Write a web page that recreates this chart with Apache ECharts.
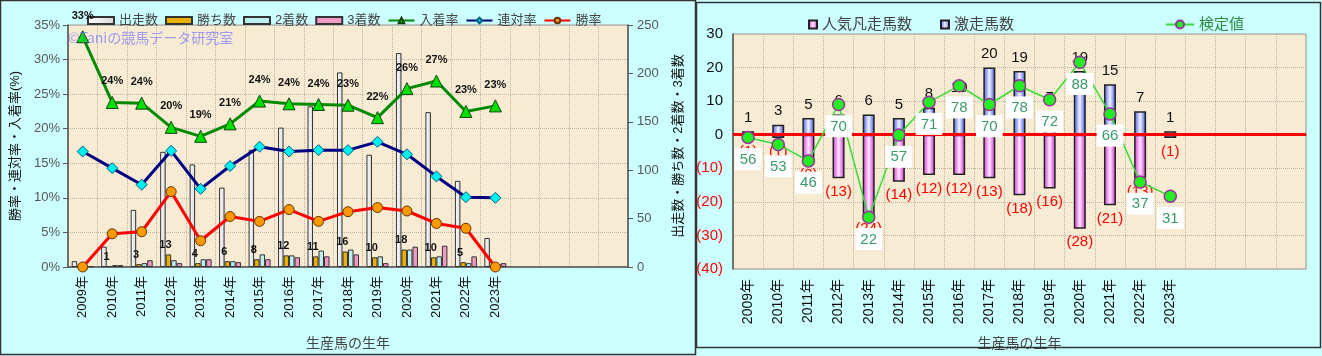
<!DOCTYPE html>
<html><head><meta charset="utf-8">
<script src="https://cdn.jsdelivr.net/npm/echarts@6/dist/echarts.min.js"></script>
<style>html,body{margin:0;padding:0;background:#CCFFFF;}#c{width:1322px;height:356px;}</style>
</head><body><div id="c"></div>
<script>
// ---- data ----
const years = ['2009年','2010年','2011年','2012年','2013年','2014年','2015年','2016年','2017年','2018年','2019年','2020年','2021年','2022年','2023年'];
const blanks = ['', '', '', ''];
const runners = [6,21,59,119,106,82,121,144,166,201,116,221,160,89,30];
const wins = [0,1,3,13,4,6,8,12,11,16,10,18,10,5,0];
const seconds = [1,2,4,7,8,6,13,12,17,18,11,18,11,4,3];
const thirds = [1,2,7,4,8,5,8,10,11,13,4,21,22,11,4];
const placeRate = [33.3,23.8,23.7,20.2,18.9,20.7,24.0,23.6,23.5,23.4,21.6,25.8,26.9,22.5,23.3];
const rentaiRate = [16.7,14.3,11.9,16.8,11.3,14.6,17.4,16.7,16.9,16.9,18.1,16.3,13.1,10.1,10.0];
const winRate = [0,4.8,5.1,10.9,3.8,7.3,6.6,8.3,6.6,8.0,8.6,8.1,6.3,5.6,0];
const surge = [1,3,5,6,6,5,8,10,20,19,7,19,15,7,1];
const flop = [-1,-1,-8,-13,-24,-14,-12,-12,-13,-18,-16,-28,-21,-13,-1];
const testVal = [56,53,46,70,22,57,71,78,70,78,72,88,66,37,31];

const cats = years.concat(blanks);
const FONT = 'Arial, "Liberation Sans", "Noto Sans CJK JP", sans-serif';
const chart = echarts.init(document.getElementById('c'), null, {renderer:'canvas'});
const grad = (c0, c1, c2, c3) => ({type:'linear',x:0,y:0,x2:1,y2:0,colorStops:[
  {offset:0,color:c0},{offset:0.28,color:c1},{offset:0.5,color:c2},{offset:0.72,color:c1},{offset:1,color:c3}]});
const dotted = {show:true,lineStyle:{color:'#BEB4A4',type:'dotted',width:1}};
const bw = 5.5;

const option = {
  backgroundColor:'#CCFFFF',
  animation:false,
  textStyle:{fontFamily:FONT},
  graphic:[
    {type:'rect',shape:{x:0.5,y:0.5,width:695,height:354},style:{fill:'none',stroke:'#333',lineWidth:1.5},z:100},
    {type:'rect',shape:{x:696.5,y:2.5,width:624,height:345},style:{fill:'none',stroke:'#333',lineWidth:1.5},z:100},
    {type:'text',left:68,top:31,style:{text:'©Taniの競馬データ研究室',fill:'rgba(110,110,255,0.65)',font:'14px "Noto Sans CJK JP", sans-serif'},z:50}
  ],
  legend:[
    {left:82,top:9,itemWidth:26,itemHeight:7,itemGap:7,textStyle:{fontSize:13,color:'#444',fontFamily:FONT},
     data:[{name:'出走数',icon:'rect'},{name:'勝ち数',icon:'rect'},{name:'2着数',icon:'rect'},{name:'3着数',icon:'rect'},'入着率','連対率','勝率']},
    {left:803,top:12,itemWidth:8,itemHeight:8,itemGap:28,textStyle:{fontSize:15,color:'#444',fontFamily:FONT},
     data:[{name:'人気凡走馬数',icon:'rect'},{name:'激走馬数',icon:'rect'}]},
    {left:1160,top:12,itemWidth:28,itemHeight:10,textStyle:{fontSize:15,color:'#2E8B3E',fontFamily:FONT},data:['検定値']}
  ],
  grid:[
    {left:68,top:25,width:560,height:244,show:true,backgroundColor:'#F7EBD3',borderColor:'#999',borderWidth:1},
    {left:733,top:34,width:573,height:238,show:true,backgroundColor:'#F7EBD3',borderColor:'#999',borderWidth:1}
  ],
  xAxis:[
    {type:'category',gridIndex:0,data:cats,axisTick:{show:false},axisLine:{lineStyle:{color:'#555',width:1.5}},
     splitLine:dotted,axisLabel:{rotate:90,interval:0,fontSize:13,color:'#111',margin:9},
     name:'生産馬の生年',nameLocation:'middle',nameGap:70,nameTextStyle:{fontSize:14,color:'#444'}},
    {type:'category',gridIndex:1,data:cats,axisTick:{show:false},axisLine:{lineStyle:{color:'#555',width:1.5}},
     splitLine:dotted,axisLabel:{rotate:90,interval:0,fontSize:14,color:'#111',margin:10},
     name:'生産馬の生年',nameLocation:'middle',nameGap:68,nameTextStyle:{fontSize:14,color:'#444'}}
  ],
  yAxis:[
    {type:'value',gridIndex:0,min:0,max:35,interval:5,position:'left',
     axisLine:{show:true,lineStyle:{color:'#555',width:1.5}},axisTick:{show:true,lineStyle:{color:'#555'}},
     splitLine:dotted,axisLabel:{formatter:'{value}%',fontSize:13,color:'#555'},
     name:'勝率・連対率・入着率(%)',nameLocation:'middle',nameRotate:90,nameGap:46,nameTextStyle:{fontSize:13,color:'#111'}},
    {type:'value',gridIndex:0,min:0,max:250,interval:50,position:'right',
     axisLine:{show:true,lineStyle:{color:'#555',width:1.5}},axisTick:{show:true,lineStyle:{color:'#555'}},
     splitLine:{show:false},axisLabel:{fontSize:13,color:'#555',margin:9},
     name:'出走数・勝ち数・2着数・3着数',nameLocation:'middle',nameRotate:90,nameGap:44,nameTextStyle:{fontSize:13,color:'#111'}},
    {type:'value',gridIndex:1,min:-40,max:30,interval:10,position:'left',
     axisLine:{show:true,lineStyle:{color:'#555',width:1.5}},axisTick:{show:false},splitLine:dotted,
     axisLabel:{fontSize:15,margin:10,formatter:v=> v<0?'{r|('+(-v)+')}':'{b|'+v+'}',
       rich:{r:{color:'#FF0000',fontSize:15},b:{color:'#111',fontSize:15}}}},
    {type:'value',gridIndex:1,min:0,max:100,show:false,splitLine:{show:false}}
  ],
  series:[
    {name:'出走数',type:'bar',xAxisIndex:0,yAxisIndex:1,data:runners,barWidth:bw,barGap:'0%',
     itemStyle:{color:{type:'linear',x:0,y:0,x2:1,y2:0,colorStops:[{offset:0,color:'#FFFFFF'},{offset:1,color:'#D8D8D8'}]},borderColor:'#333',borderWidth:1}},
    {name:'勝ち数',type:'bar',xAxisIndex:0,yAxisIndex:1,data:wins,barWidth:bw,barGap:'0%',
     itemStyle:{color:'#EBB000',borderColor:'#333',borderWidth:1},
     label:{show:true,position:'top',distance:4,offset:[-3,0],fontSize:11,fontWeight:'bold',color:'#111',formatter:p=>p.value?String(p.value):''}},
    {name:'2着数',type:'bar',xAxisIndex:0,yAxisIndex:1,data:seconds,barWidth:bw,barGap:'0%',
     itemStyle:{color:'#BDEFF0',borderColor:'#333',borderWidth:1}},
    {name:'3着数',type:'bar',xAxisIndex:0,yAxisIndex:1,data:thirds,barWidth:bw,barGap:'0%',
     itemStyle:{color:'#F29AC6',borderColor:'#333',borderWidth:1}},
    {name:'入着率',type:'line',xAxisIndex:0,yAxisIndex:0,data:placeRate,z:5,
     lineStyle:{color:'#008A00',width:3},symbol:'triangle',symbolSize:12,
     itemStyle:{color:'#00E000',borderColor:'#114411',borderWidth:1},
     label:{show:true,position:'top',distance:9,fontSize:11,fontWeight:'bold',color:'#111',formatter:p=>Math.round(p.value)+'%'}},
    {name:'連対率',type:'line',xAxisIndex:0,yAxisIndex:0,data:rentaiRate,z:4,
     lineStyle:{color:'#000080',width:3},symbol:'diamond',symbolSize:11,
     itemStyle:{color:'#00F0F0',borderColor:'#006080',borderWidth:1}},
    {name:'勝率',type:'line',xAxisIndex:0,yAxisIndex:0,data:winRate,z:4,
     lineStyle:{color:'#FF0000',width:3},symbol:'circle',symbolSize:10,
     itemStyle:{color:'#FF9900',borderColor:'#663300',borderWidth:1}},

    {name:'人気凡走馬数',type:'bar',xAxisIndex:1,yAxisIndex:2,data:flop,stack:'s',barWidth:12,
     itemStyle:{color:grad('#D050D0','#F08CF0','#FFECFF','#B030B0'),borderColor:'#222',borderWidth:1.5},
     label:{show:true,position:'bottom',distance:6,fontSize:15,color:'#FF0000',formatter:p=>'('+(-p.value)+')'}},
    {name:'激走馬数',type:'bar',xAxisIndex:1,yAxisIndex:2,data:surge,stack:'s',barWidth:12,
     itemStyle:{color:grad('#5060D8','#A0AAF8','#F2F4FF','#3040C0'),borderColor:'#222',borderWidth:1.5},
     label:{show:true,position:'top',distance:6,fontSize:15,color:'#111'},
     markLine:{silent:true,symbol:'none',label:{show:false},data:[{yAxis:0}],lineStyle:{color:'#FF0000',width:3,type:'solid'}}},
    {name:'検定値',type:'line',xAxisIndex:1,yAxisIndex:3,data:testVal,z:6,
     lineStyle:{color:'#33DD33',width:1.5},symbol:'circle',symbolSize:12,
     itemStyle:{color:'#22EE22',borderColor:'#993399',borderWidth:1.5},
     label:{show:true,position:'bottom',distance:4,fontSize:15,color:'#3A9A6A',backgroundColor:'#FFFFFF',padding:[4,5,3,5]}}
  ]
};
chart.setOption(option);
</script></body></html>
